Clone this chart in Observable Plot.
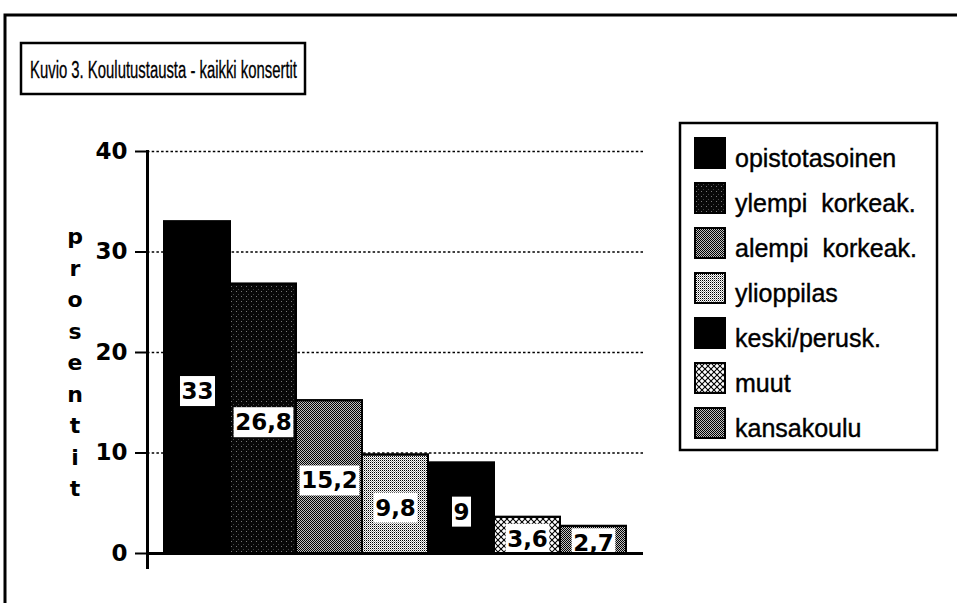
<!DOCTYPE html>
<html><head><meta charset="utf-8">
<script src="https://cdn.jsdelivr.net/npm/d3@7"></script>
<script src="https://cdn.jsdelivr.net/npm/@observablehq/plot@0.6"></script>
<style>
body{margin:0;background:#fff;overflow:hidden}
#chart{position:relative;width:957px;height:603px;overflow:hidden;background:#fff}
</style></head><body><div id="chart"></div>
<script>
// ---- data ----
const categories = ["opistotasoinen", "ylempi  korkeak.", "alempi  korkeak.", "ylioppilas", "keski/perusk.", "muut", "kansakoulu"];
const values = [33, 26.8, 15.2, 9.8, 9, 3.6, 2.7];
const valueLabels = ["33", "26,8", "15,2", "9,8", "9", "3,6", "2,7"];
const yTicks = [0, 10, 20, 30, 40];
const titleText = "Kuvio 3. Koulutustausta - kaikki konsertit";
const yLabel = "prosentit";

// ---- styles ----
const fills = ["#000", "url(#pDark)", "url(#pMid)", "url(#pLight)", "#000", "url(#pCross)", "url(#pMid)"];
const numFont = "'DejaVu Sans', sans-serif";

const data = categories.map((c, i) => ({category: c, value: values[i], label: valueLabels[i]}));

const chart = Plot.plot({
  width: 957, height: 603,
  marginLeft: 147, marginRight: 314, marginTop: 151, marginBottom: 50,
  x: {domain: categories, range: [162, 628], padding: 0, axis: null},
  y: {domain: [0, 40]},
  color: {domain: categories, range: fills},
  style: {background: "white", overflow: "visible"},
  marks: [
    Plot.gridY(yTicks.slice(1), {stroke: "#000", strokeOpacity: 1, strokeWidth: 1.3, strokeDasharray: "2.5,2.2"}),
    Plot.barY(data, {x: "category", y: "value", fill: "category", stroke: "#000", strokeWidth: 2}),
    Plot.text(data, {x: "category", y: d => d.value / 2, text: "label", dy: 4, fontSize: 23, fontWeight: "bold", fontFamily: numFont, fill: "#000"}),
    Plot.barY(data, {x: "category", y: "value", fill: "none", stroke: "#000", strokeWidth: 2}),
    Plot.axisY({ticks: yTicks, tickSize: 12, tickPadding: 8, tickFormat: d => String(d), fontSize: 23, fontWeight: "bold", fontFamily: numFont, strokeWidth: 2, label: null}),
    Plot.ruleY([0], {strokeWidth: 3}),
    Plot.frame({anchor: "left", strokeWidth: 3, insetBottom: -14})
  ]
});
document.getElementById("chart").appendChild(chart);

const svg = d3.select(chart);

// patterns
const defs = svg.insert("defs", ":first-child");
function pattern(id, size, cells, bg) {
  const p = defs.append("pattern").attr("id", id).attr("patternUnits", "userSpaceOnUse")
    .attr("width", size).attr("height", size);
  p.append("rect").attr("width", size).attr("height", size).attr("fill", bg).attr("shape-rendering", "crispEdges");
  cells.forEach(([x, y, c]) => p.append("rect").attr("x", x).attr("y", y).attr("width", 1).attr("height", 1).attr("fill", c).attr("shape-rendering", "crispEdges"));
  return p;
}
pattern("pDark", 5, [[1, 1, "#777"], [3, 4, "#444"]], "#080808");
pattern("pMid", 2, [[0, 0, "#000"], [1, 1, "#000"]], "#c0c0c0");
pattern("pLight", 2, [[0, 0, "#000"], [1, 1, "#999"]], "#fff");
const pc = defs.append("pattern").attr("id", "pCross").attr("patternUnits", "userSpaceOnUse").attr("width", 6).attr("height", 6);
pc.append("rect").attr("width", 6).attr("height", 6).attr("fill", "#fff");
pc.append("path").attr("d", "M0,0L6,6M6,0L0,6").attr("stroke", "#000").attr("stroke-width", 1.1);

// white boxes behind value labels
svg.selectAll('g[aria-label="text"] text').each(function () {
  const b = this.getBBox();
  d3.select(this.parentNode).insert("rect", () => this)
    .attr("x", b.x - 1.5).attr("y", b.y - 2).attr("width", b.width + 3).attr("height", b.height + 4)
    .attr("fill", "#fff").attr("transform", this.getAttribute("transform"));
});

// outer frame
const ov = svg.append("g").attr("text-anchor", "start");
ov.append("path").attr("d", "M5,610V15H965").attr("fill", "none").attr("stroke", "#000").attr("stroke-width", 3);

// title box
ov.append("rect").attr("x", 21).attr("y", 43).attr("width", 284).attr("height", 51)
  .attr("fill", "#fff").attr("stroke", "#000").attr("stroke-width", 2.5);
ov.append("text").attr("x", 30).attr("y", 78).attr("text-anchor", "start")
  .attr("textLength", 267).attr("lengthAdjust", "spacingAndGlyphs")
  .style("font", "23px 'Liberation Sans Narrow','Liberation Sans',Arial,sans-serif")
  .attr("fill", "#000").attr("stroke", "#000").attr("stroke-width", 0.3).text(titleText);

// y label, stacked letters
yLabel.split("").forEach((ch, i) => {
  ov.append("text").attr("x", 75).attr("y", 244 + 31.5 * i).attr("text-anchor", "middle")
    .style("font", "bold 22px 'DejaVu Sans', sans-serif").attr("fill", "#000").text(ch);
});

// legend
const color = chart.scale("color");
const lg = svg.append("g").attr("text-anchor", "start");
lg.append("rect").attr("x", 680).attr("y", 123).attr("width", 257).attr("height", 327)
  .attr("fill", "#fff").attr("stroke", "#000").attr("stroke-width", 2.5);
categories.forEach((c, i) => {
  const y0 = 137 + 45 * i;
  lg.append("rect").attr("x", 695).attr("y", y0 + 1).attr("width", 30).attr("height", 30)
    .attr("fill", color.apply(c)).attr("stroke", "#000").attr("stroke-width", 2);
  lg.append("text").attr("x", 735).attr("y", y0 + 30).attr("text-anchor", "start")
    .style("font", "25px 'Liberation Sans', Arial, sans-serif").style("white-space", "pre")
    .attr("fill", "#000").attr("stroke", "#000").attr("stroke-width", 0.4).text(c);
});
</script>
</body></html>
